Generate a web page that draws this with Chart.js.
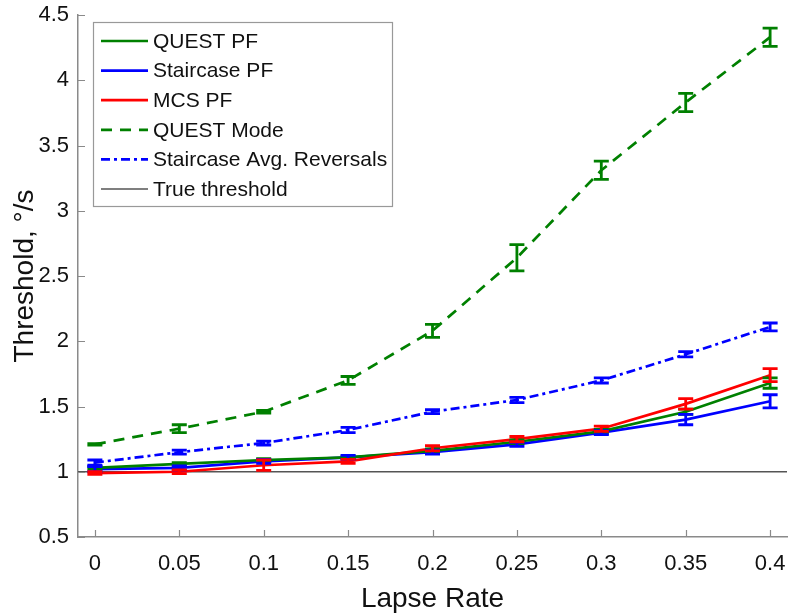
<!DOCTYPE html>
<html>
<head>
<meta charset="utf-8">
<script src="https://cdn.jsdelivr.net/npm/chart.js@4.4.1/dist/chart.umd.min.js"></script>
<style>
  body { margin: 0; background: #fff; }
  #wrap { width: 788px; height: 616px; }
</style>
</head>
<body>
<div id="wrap"><canvas id="thresholdChart" width="788" height="616"></canvas></div>
<script>
// lapse rate on x, threshold (deg/s) on y
const lapseRate = [0, 0.05, 0.1, 0.15, 0.2, 0.25, 0.3, 0.35, 0.4];
const xTickLabels = ['0', '0.05', '0.1', '0.15', '0.2', '0.25', '0.3', '0.35', '0.4'];
const yTickValues = [0.5, 1, 1.5, 2, 2.5, 3, 3.5, 4, 4.5];
const yTickLabels = ['0.5', '1', '1.5', '2', '2.5', '3', '3.5', '4', '4.5'];

const questPF = [1.03, 1.06, 1.09, 1.11, 1.16, 1.23, 1.31, 1.46, 1.68];
const questPFErr = [0.01, 0.01, 0.01, 0.01, 0.015, 0.015, 0.015, 0.02, 0.04];
const staircasePF = [1.02, 1.03, 1.08, 1.11, 1.15, 1.21, 1.30, 1.40, 1.54];
const staircasePFErr = [0.02, 0.015, 0.015, 0.015, 0.015, 0.015, 0.015, 0.04, 0.05];
const mcsPF = [0.99, 1.00, 1.05, 1.08, 1.18, 1.25, 1.33, 1.52, 1.74];
const mcsPFErr = [0.01, 0.015, 0.04, 0.015, 0.02, 0.02, 0.02, 0.04, 0.05];
const questMode = [1.21, 1.33, 1.46, 1.70, 2.08, 2.64, 3.31, 3.83, 4.33];
const questModeErr = [0.005, 0.03, 0.01, 0.03, 0.05, 0.1, 0.07, 0.07, 0.07];
const staircaseAvg = [1.07, 1.15, 1.22, 1.32, 1.46, 1.55, 1.70, 1.90, 2.11];
const staircaseAvgErr = [0.02, 0.015, 0.015, 0.02, 0.015, 0.02, 0.02, 0.02, 0.03];
const trueThreshold = 1;
const xMin = -0.01, xMax = 0.41;

const GREEN = '#008000', BLUE = '#0000ff', RED = '#ff0000', AXIS = '#8a8a8a';
const FONT = '"Liberation Sans", Arial, sans-serif';

function pts(ys) {
    return lapseRate.map((x, i) => ({ x: x, y: ys[i] }));
}

function series(label, ys, err, color, dash, order) {
    return {
        label: label,
        data: pts(ys),
        errors: err,
        borderColor: color,
        backgroundColor: color,
        borderWidth: 2.7,
        borderDash: dash,
        pointRadius: 0,
        tension: 0,
        order: order
    };
}

const datasets = [
    series('QUEST PF', questPF, questPFErr, GREEN, [], 2),
    series('Staircase PF', staircasePF, staircasePFErr, BLUE, [], 3),
    series('MCS PF', mcsPF, mcsPFErr, RED, [], 1),
    series('QUEST Mode', questMode, questModeErr, GREEN, [11, 8], 4),
    series('Staircase Avg. Reversals', staircaseAvg, staircaseAvgErr, BLUE, [9, 4, 3, 4], 5),
    {
        label: 'True threshold',
        data: [{ x: xMin, y: trueThreshold }, { x: xMax, y: trueThreshold }],
        borderColor: '#555555',
        borderWidth: 1.5,
        pointRadius: 0,
        order: 6
    }
];

// error bars with caps, drawn through the scales
const errorBars = {
    id: 'errorBars',
    afterDatasetsDraw(chart) {
        const ctx = chart.ctx, xs = chart.scales.x, ys = chart.scales.y;
        ctx.save();
        chart.data.datasets.forEach(ds => {
            if (!ds.errors) return;
            ctx.strokeStyle = ds.borderColor;
            ctx.lineWidth = 2.8;
            ctx.setLineDash([]);
            ds.data.forEach((p, i) => {
                const px = xs.getPixelForValue(p.x);
                const top = ys.getPixelForValue(p.y + ds.errors[i]);
                const bot = ys.getPixelForValue(p.y - ds.errors[i]);
                ctx.beginPath();
                ctx.moveTo(px, top); ctx.lineTo(px, bot);
                ctx.moveTo(px - 7.5, top); ctx.lineTo(px + 7.5, top);
                ctx.moveTo(px - 7.5, bot); ctx.lineTo(px + 7.5, bot);
                ctx.stroke();
            });
        });
        ctx.restore();
    }
};

// matlab style ticks pointing into the axes
const innerTicks = {
    id: 'innerTicks',
    afterDraw(chart) {
        const ctx = chart.ctx, xs = chart.scales.x, ys = chart.scales.y;
        const a = chart.chartArea;
        ctx.save();
        ctx.strokeStyle = AXIS;
        ctx.lineWidth = 1.2;
        ctx.beginPath();
        lapseRate.forEach(v => {
            const px = Math.round(xs.getPixelForValue(v)) + 0.5;
            ctx.moveTo(px, a.bottom); ctx.lineTo(px, a.bottom - 7);
        });
        yTickValues.forEach(v => {
            const py = Math.round(ys.getPixelForValue(v)) + 0.5;
            ctx.moveTo(a.left, py); ctx.lineTo(a.left + 7, py);
        });
        ctx.stroke();
        ctx.restore();
    }
};

// boxed legend in upper left
const boxLegend = {
    id: 'boxLegend',
    afterDraw(chart) {
        const ctx = chart.ctx;
        const bx = 93, by = 22, bw = 299, bh = 184, rowH = 29.6;
        ctx.save();
        ctx.fillStyle = '#ffffff';
        ctx.fillRect(bx, by, bw, bh);
        ctx.strokeStyle = '#999999';
        ctx.lineWidth = 1.2;
        ctx.strokeRect(bx + 0.5, by + 0.5, bw, bh);
        ctx.font = '21px ' + FONT;
        ctx.textBaseline = 'middle';
        chart.data.datasets.forEach((ds, i) => {
            const y = by + 19 + i * rowH;
            ctx.strokeStyle = ds.borderColor;
            ctx.lineWidth = ds.borderWidth;
            ctx.setLineDash(ds.borderDash || []);
            ctx.beginPath();
            ctx.moveTo(101, y); ctx.lineTo(148, y);
            ctx.stroke();
            ctx.setLineDash([]);
            ctx.fillStyle = '#111111';
            ctx.fillText(ds.label, 153, y + 1);
        });
        ctx.restore();
    }
};

new Chart(document.getElementById('thresholdChart'), {
    type: 'line',
    data: { datasets: datasets },
    options: {
        responsive: false,
        animation: false,
        layout: { padding: { top: 15, right: 1, left: 0, bottom: 0 } },
        plugins: { legend: { display: false }, tooltip: { enabled: false } },
        scales: {
            x: {
                type: 'linear',
                min: xMin,
                max: xMax,
                afterBuildTicks: s => { s.ticks = lapseRate.map(v => ({ value: v })); },
                afterFit: s => { s.height = 79; s.paddingLeft = 0; s.paddingRight = 0; },
                ticks: {
                    callback: (v, i) => xTickLabels[i],
                    color: '#111',
                    font: { family: FONT, size: 22 },
                    padding: 14,
                    maxRotation: 0
                },
                grid: { drawOnChartArea: false, drawTicks: false },
                border: { color: AXIS, width: 1.5 },
                title: {
                    display: true,
                    text: 'Lapse Rate',
                    color: '#111',
                    font: { family: FONT, size: 28 },
                    padding: { top: 0, bottom: 0 }
                }
            },
            y: {
                min: 0.5,
                max: 4.5,
                afterBuildTicks: s => { s.ticks = yTickValues.map(v => ({ value: v })); },
                afterFit: s => { s.width = 78; s.paddingTop = 0; s.paddingBottom = 0; },
                ticks: {
                    callback: (v, i) => yTickLabels[i],
                    color: '#111',
                    font: { family: FONT, size: 22 },
                    padding: 9
                },
                grid: { drawOnChartArea: false, drawTicks: false },
                border: { color: AXIS, width: 1.5 },
                title: {
                    display: true,
                    text: 'Threshold, \u00B0/s',
                    color: '#111',
                    font: { family: FONT, size: 28 },
                    padding: { top: 8, bottom: 0 }
                }
            }
        }
    },
    plugins: [errorBars, innerTicks, boxLegend]
});
</script>
</body>
</html>
